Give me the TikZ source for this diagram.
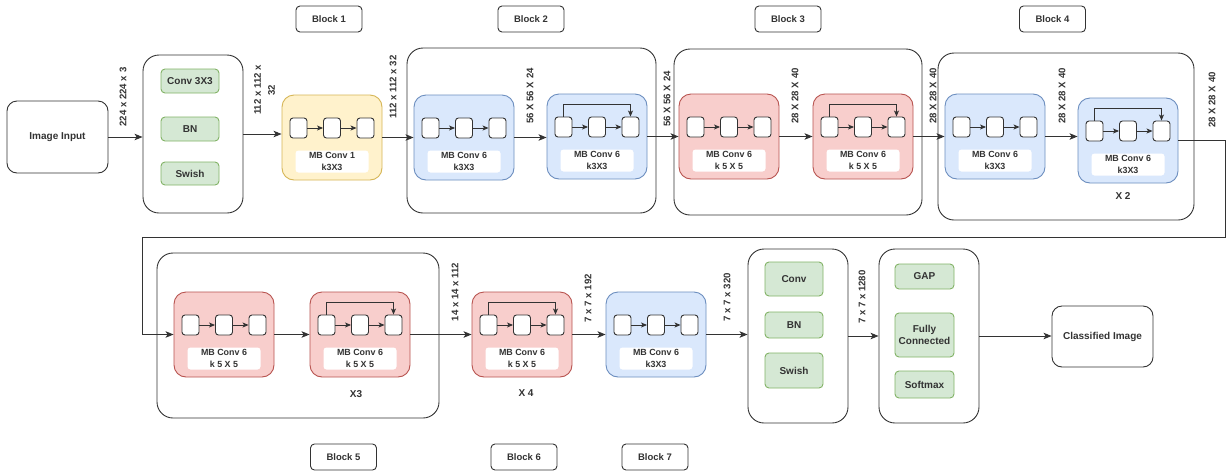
\documentclass[tikz,border=0pt]{standalone}
\usepackage{fontspec}
\setmainfont{Liberation Sans}
\usetikzlibrary{arrows.meta}
\definecolor{yF}{HTML}{FFF2CC}\definecolor{yD}{HTML}{D6B656}
\definecolor{bF}{HTML}{DAE8FC}\definecolor{bD}{HTML}{6C8EBF}
\definecolor{rF}{HTML}{F8CECC}\definecolor{rD}{HTML}{B85450}
\definecolor{gF}{HTML}{D5E8D4}\definecolor{gD}{HTML}{82B366}
\definecolor{ink}{HTML}{333333}
\tikzset{
  every node/.style={font=\bfseries\fontsize{10}{12}\selectfont, text=ink},
  cont/.style={draw=ink, line width=0.9pt, rounded corners=16pt, fill=white},
  plainbox/.style={draw=ink, line width=0.9pt, rounded corners=10pt, fill=white, align=center},
  blocklbl/.style={draw=ink, line width=0.9pt, rounded corners=4pt, fill=white, minimum width=66, minimum height=26, font=\bfseries\fontsize{9.5}{11}\selectfont},
  gbox/.style={draw=gD, fill=gF, line width=0.9pt, rounded corners=4pt, align=center, inner sep=0pt},
  dimlbl/.style={rotate=90, align=center, font=\bfseries\fontsize{9.6}{14}\selectfont},
  mbbox/.style={line width=0.9pt, rounded corners=12pt, minimum width=100, minimum height=85},
  yel/.style={draw=yD, fill=yF},
  blu/.style={draw=bD, fill=bF},
  red/.style={draw=rD, fill=rF},
  sqbox/.style={draw=ink, fill=white, line width=0.9pt, rounded corners=3pt, minimum width=17, minimum height=20, inner sep=0pt},
  lblbox/.style={fill=white, rounded corners=3pt, minimum width=73, minimum height=22, inner sep=0pt, align=center, font=\bfseries\fontsize{8.9}{12}\selectfont},
  arr/.style={draw=ink, line width=0.9pt, -{Stealth[length=8pt,width=6.5pt,inset=2pt]}},
  iarr/.style={draw=ink, line width=0.9pt, -{Stealth[length=6pt,width=5pt,inset=1.5pt]}},
}
\newcommand\mbblk[7]{%
  \node[mbbox,#4] (#1) at (#2+50,#3+42.5) {};
  \node[sqbox] (#1-a) at (#2+16.5,#3+33) {};
  \node[sqbox] (#1-b) at (#2+50,#3+33) {};
  \node[sqbox] (#1-c) at (#2+83.5,#3+33) {};
  \draw[iarr] (#1-a) -- (#1-b);
  \draw[iarr] (#1-b) -- (#1-c);
  \node[lblbox] (#1-l) at (#2+50,#3+66.5) {#5\\#6};
  \ifnum#7=1 \draw[iarr] (#1-a.north) -- ++(0,-12) -| (#1-c.north);\fi
}
\begin{document}
\begin{tikzpicture}[x=1pt,y=-1pt]
\useasboundingbox[fill=white] (0,0) rectangle (1227,472);
% block labels
\node[blocklbl] (bl1) at (329,19) {Block 1};
\node[blocklbl] (bl2) at (531,19) {Block 2};
\node[blocklbl] (bl3) at (788,19) {Block 3};
\node[blocklbl] (bl4) at (1052.5,19) {Block 4};
\node[blocklbl] (bl5) at (343.5,457) {Block 5};
\node[blocklbl] (bl6) at (524,457) {Block 6};
\node[blocklbl] (bl7) at (655,457) {Block 7};
% containers
\node[plainbox, minimum width=101, minimum height=72] (img) at (57.5,137) {Image Input};
\node[cont, minimum width=100, minimum height=158] (stem) at (193,134) {};
\node[cont, minimum width=249, minimum height=165] (blk2) at (531.5,130.5) {};
\node[cont, minimum width=248, minimum height=166] (blk3) at (798,132) {};
\node[cont, minimum width=256, minimum height=167] (blk4) at (1066,136.5) {};
\node[cont, minimum width=282, minimum height=165] (blk5) at (298,335.5) {};
\node[cont, minimum width=100, minimum height=174] (head) at (798,336) {};
\node[cont, minimum width=100, minimum height=174] (cls) at (929,336) {};
\node[plainbox, minimum width=101, minimum height=61] (out) at (1102.5,336.5) {Classified Image};
% green boxes
\node[gbox, minimum width=58, minimum height=24] (s1) at (190,81) {Conv 3X3};
\node[gbox, minimum width=58, minimum height=24] (s2) at (190,129) {BN};
\node[gbox, minimum width=58, minimum height=23] (s3) at (190,173.5) {Swish};
\node[gbox, minimum width=58, minimum height=34] (h1) at (794,279) {Conv};
\node[gbox, minimum width=58, minimum height=26] (h2) at (794,325) {BN};
\node[gbox, minimum width=58, minimum height=35] (h3) at (794,370.5) {Swish};
\node[gbox, minimum width=59, minimum height=25] (c1) at (924.5,276.5) {GAP};
\node[gbox, minimum width=59, minimum height=44] (c2) at (924.5,335) {Fully\\Connected};
\node[gbox, minimum width=59, minimum height=27] (c3) at (924.5,384.5) {Softmax};
% MB blocks
\mbblk{mb1}{282}{95}{yel}{MB Conv 1}{k3X3}{0}
\mbblk{b2a}{414}{95}{blu}{MB Conv 6}{k3X3}{0}
\mbblk{b2b}{547}{94}{blu}{MB Conv 6}{k3X3}{1}
\mbblk{b3a}{679}{94}{red}{MB Conv 6}{k 5 X 5}{0}
\mbblk{b3b}{813}{94}{red}{MB Conv 6}{k 5 X 5}{1}
\mbblk{b4a}{945}{94}{blu}{MB Conv 6}{k3X3}{0}
\mbblk{b4b}{1078}{98}{blu}{MB Conv 6}{k3X3}{1}
\mbblk{b5a}{174}{292}{red}{MB Conv 6}{k 5 X 5}{0}
\mbblk{b5b}{310}{292}{red}{MB Conv 6}{k 5 X 5}{1}
\mbblk{b6}{472}{292}{red}{MB Conv 6}{k 5 X 5}{1}
\mbblk{b7}{606}{292}{blu}{MB Conv 6}{k3X3}{0}
% repeat labels
\node (x2) at (1123,196) {X 2};
\node (x3) at (356,394) {X3};
\node (x4) at (526,393) {X 4};
% dimension labels
\node[dimlbl] (d1) at (123,97) {224 x 224 x 3};
\node[dimlbl] (d2) at (264.5,90) {112 x 112 x\\32};
\node[dimlbl] (d3) at (393,87) {112 x 112 x 32};
\node[dimlbl] (d4) at (530,96) {56 X 56 X 24};
\node[dimlbl] (d5) at (667,99) {56 X 56 X 24};
\node[dimlbl] (d6) at (795,96) {28 X 28 X 40};
\node[dimlbl] (d7) at (933,96) {28 X 28 X 40};
\node[dimlbl] (d8) at (1062,96) {28 X 28 X 40};
\node[dimlbl] (d9) at (1212,100) {28 X 28 X 40};
\node[dimlbl] (d10) at (455,292) {14 x 14 x 112};
\node[dimlbl] (d11) at (588,298) {7 x 7 x 192};
\node[dimlbl] (d12) at (727,297) {7 x 7 x 320};
\node[dimlbl] (d13) at (862,297) {7 x 7 x 1280};
% connectors
\draw[arr] (img.east) -- (img.east -| stem.west);
\draw[arr] (stem.east) -- (stem.east -| mb1.west);
\draw[arr] (mb1.east) -- (mb1.east -| b2a.west);
\draw[arr] (b2a.east) -- (b2a.east -| b2b.west);
\draw[arr] (b2b.east) -- (b2b.east -| b3a.west);
\draw[arr] (b3a.east) -- (b3a.east -| b3b.west);
\draw[arr] (b3b.east) -- (b3b.east -| b4a.west);
\draw[arr] (b4a.east) -- (b4a.east -| b4b.west);
\coordinate (turnR) at (1225,237);
\coordinate (turnL) at (142,237);
\draw[arr] (b4b.east) -| (turnR) -- (turnL) |- (b5a.west);
\draw[arr] (b5a.east) -- (b5a.east -| b5b.west);
\draw[arr] (b5b.east) -- (b5b.east -| b6.west);
\draw[arr] (b6.east) -- (b6.east -| b7.west);
\draw[arr] (b7.east) -- (b7.east -| head.west);
\draw[arr] (head.east) -- (head.east -| cls.west);
\draw[arr] (cls.east) -- (cls.east -| out.west);
\end{tikzpicture}
\end{document}
